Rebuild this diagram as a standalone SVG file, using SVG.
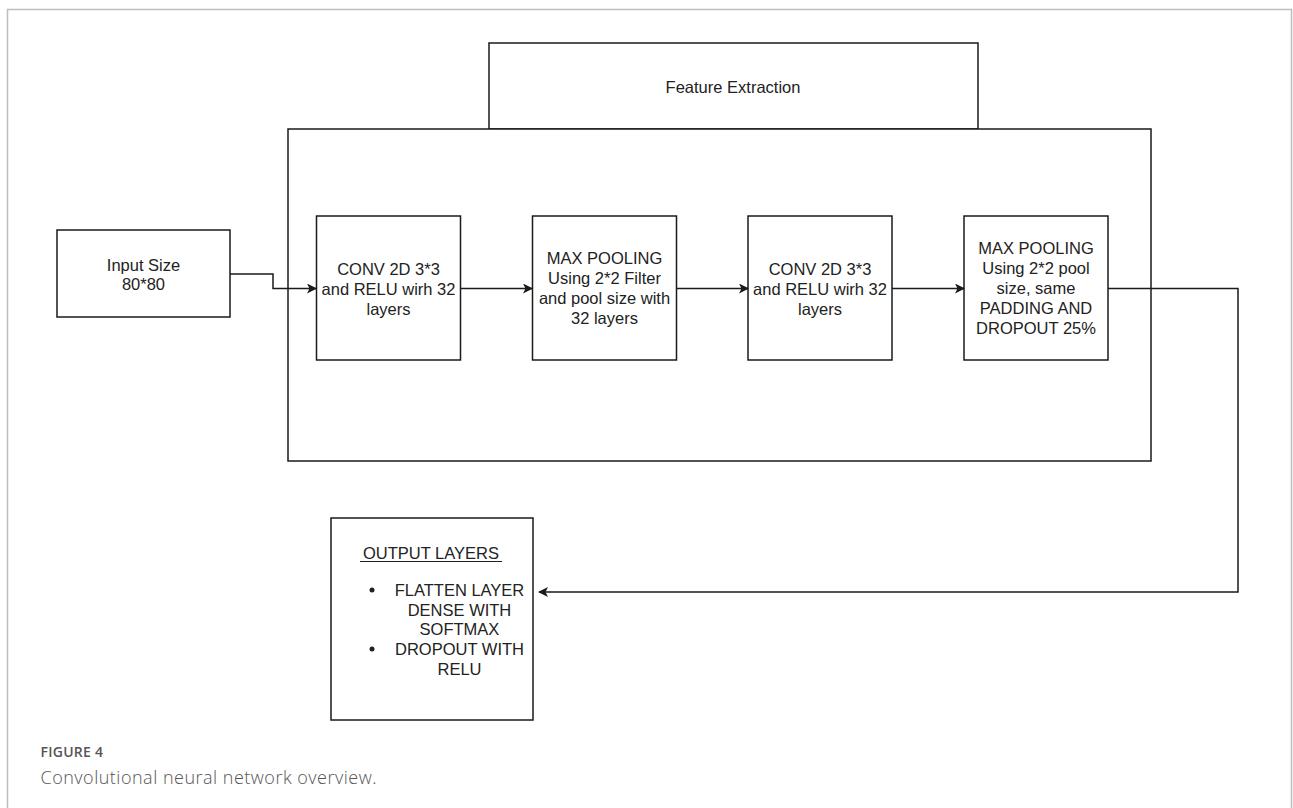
<svg xmlns="http://www.w3.org/2000/svg" width="1293" height="808" viewBox="0 0 1293 808">
<defs>
<style>
.box{fill:#fff;stroke:#1a1a1a;stroke-width:1.5}
.t{font-family:"Liberation Sans",Arial,sans-serif;font-size:16.5px;fill:#222;text-anchor:middle}
.c{fill:none;stroke:#1a1a1a;stroke-width:1.5}
.cap1{font-family:"Open Sans","Noto Sans",sans-serif;font-size:14px;font-weight:600;fill:#555}
.cap2{font-family:"Open Sans","Noto Sans",sans-serif;font-size:18px;font-weight:300;fill:#555}
</style>
<marker id="arr" viewBox="0 0 10 10" refX="9" refY="5" markerWidth="10" markerHeight="10" markerUnits="userSpaceOnUse" orient="auto">
<path d="M0,0 L10,5 L0,10 L2.5,5 Z" fill="#1a1a1a"/>
</marker>
</defs>
<rect x="0" y="0" width="1293" height="808" fill="#fff"/>
<rect x="7.5" y="9.5" width="1284" height="830" fill="none" stroke="#bdbdbd" stroke-width="1.5"/>

<g id="feature-extraction">
<rect class="box" x="489" y="43" width="489" height="86"/>
<text class="t" x="733" y="93">Feature Extraction</text>
</g>
<g id="feature-container">
<rect class="box" x="288" y="129" width="863" height="332"/>
</g>
<g id="input">
<rect class="box" x="57" y="230" width="173" height="87"/>
<text class="t" x="143.5" y="271">Input Size</text>
<text class="t" x="143.5" y="290">80*80</text>
</g>
<g id="conv1">
<rect class="box" x="316.5" y="216" width="144" height="144"/>
<text class="t" x="388.5" y="275">CONV 2D 3*3</text>
<text class="t" x="388.5" y="295">and RELU wirh 32</text>
<text class="t" x="388.5" y="315">layers</text>
</g>
<g id="maxpool1">
<rect class="box" x="532.5" y="216" width="144" height="144"/>
<text class="t" x="604.5" y="264">MAX POOLING</text>
<text class="t" x="604.5" y="284">Using 2*2 Filter</text>
<text class="t" x="604.5" y="304">and pool size with</text>
<text class="t" x="604.5" y="324">32 layers</text>
</g>
<g id="conv2">
<rect class="box" x="748" y="216" width="144" height="144"/>
<text class="t" x="820" y="275">CONV 2D 3*3</text>
<text class="t" x="820" y="295">and RELU wirh 32</text>
<text class="t" x="820" y="315">layers</text>
</g>
<g id="maxpool2">
<rect class="box" x="964" y="216" width="144" height="144"/>
<text class="t" x="1036" y="254">MAX POOLING</text>
<text class="t" x="1036" y="274">Using 2*2 pool</text>
<text class="t" x="1036" y="294">size, same</text>
<text class="t" x="1036" y="314">PADDING AND</text>
<text class="t" x="1036" y="334">DROPOUT 25%</text>
</g>
<g id="output">
<rect class="box" x="331" y="518" width="202" height="202"/>
<text class="t" x="431" y="559">OUTPUT LAYERS</text>
<line x1="360" y1="561.5" x2="502" y2="561.5" stroke="#222" stroke-width="1"/>
<circle cx="372" cy="590" r="2.5" fill="#222"/>
<circle cx="372" cy="649" r="2.5" fill="#222"/>
<text class="t" x="459.5" y="596">FLATTEN LAYER</text>
<text class="t" x="459.5" y="616">DENSE WITH</text>
<text class="t" x="459.5" y="635">SOFTMAX</text>
<text class="t" x="459.5" y="655">DROPOUT WITH</text>
<text class="t" x="459.5" y="675">RELU</text>
</g>
<g id="connectors">
<polyline class="c" points="230,274 273,274 273,288.5 316,288.5" marker-end="url(#arr)"/>
<line class="c" x1="460.5" y1="288.5" x2="532" y2="288.5" marker-end="url(#arr)"/>
<line class="c" x1="676.5" y1="288.5" x2="748" y2="288.5" marker-end="url(#arr)"/>
<line class="c" x1="892" y1="288.5" x2="964" y2="288.5" marker-end="url(#arr)"/>
<polyline class="c" points="1108,288.5 1238,288.5 1238,592 539,592" stroke="#333" marker-end="url(#arr)"/>
</g>
<text class="cap1" x="40.5" y="757" textLength="62.5">FIGURE 4</text>
<text class="cap2" x="40.5" y="784" textLength="336">Convolutional neural network overview.</text>
</svg>
